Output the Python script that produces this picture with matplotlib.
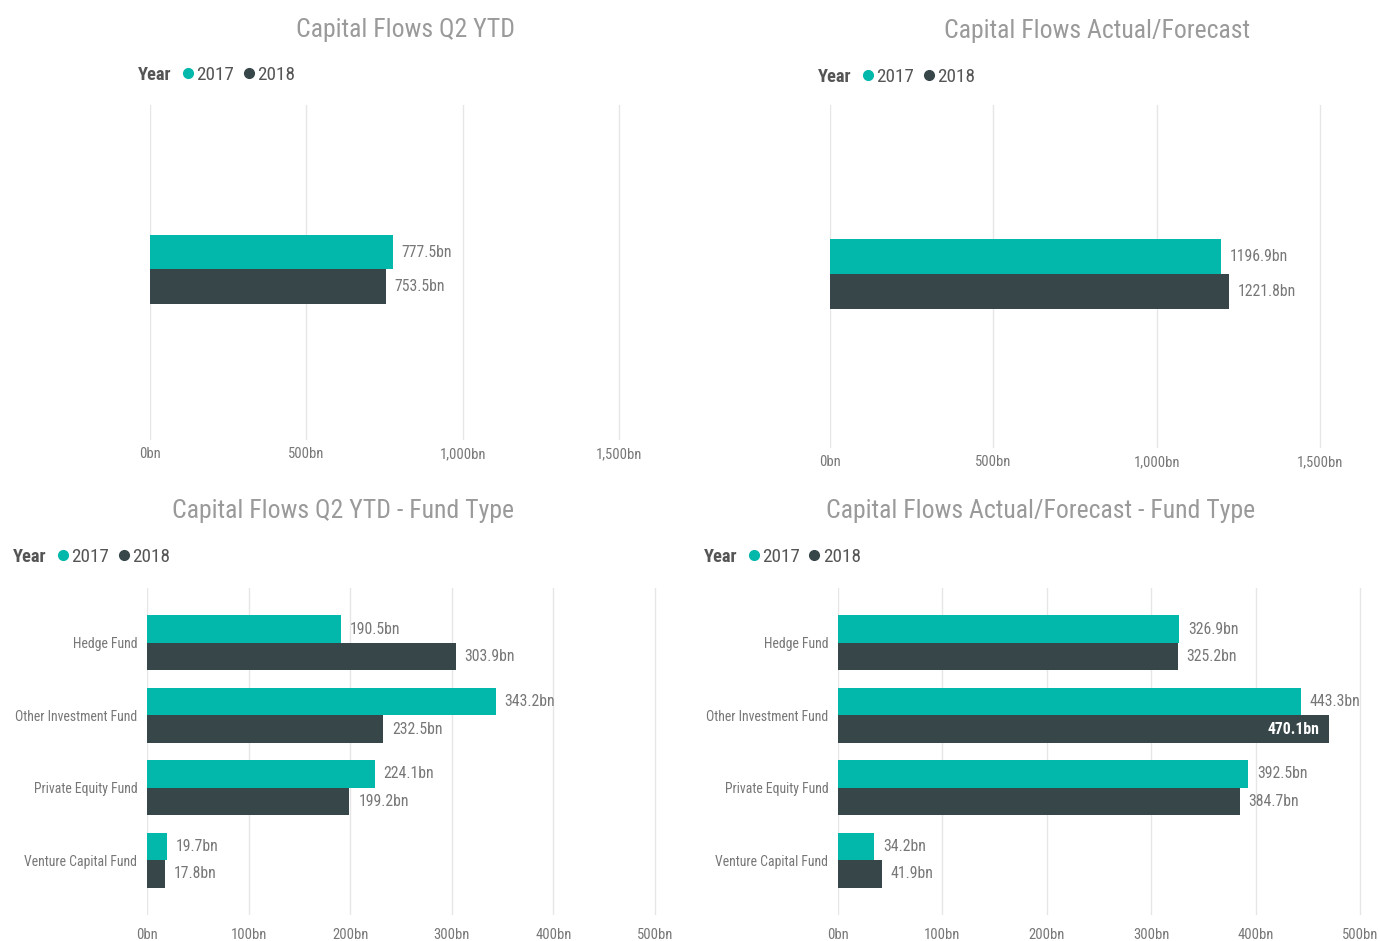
import matplotlib.pyplot as plt
from matplotlib.lines import Line2D

plt.rcParams["font.family"] = ["Roboto Condensed", "Roboto", "DejaVu Sans"]

years = ["2017", "2018"]
q2_ytd = [777.5, 753.5]
actual_forecast = [1196.9, 1221.8]

fund_types = ["Hedge Fund", "Other Investment Fund", "Private Equity Fund", "Venture Capital Fund"]
q2_fund_2017 = [190.5, 343.2, 224.1, 19.7]
q2_fund_2018 = [303.9, 232.5, 199.2, 17.8]
af_fund_2017 = [326.9, 443.3, 392.5, 34.2]
af_fund_2018 = [325.2, 470.1, 384.7, 41.9]

big_ticks = [0, 500, 1000, 1500]
big_labels = ["0bn", "500bn", "1,000bn", "1,500bn"]
small_ticks = [0, 100, 200, 300, 400, 500]
small_labels = ["0bn", "100bn", "200bn", "300bn", "400bn", "500bn"]

TEAL = "#01B8AA"
DARK = "#374649"
GREY = "#777777"
TITLE = "#9a9a9a"
GRID = "#e6e6e6"

W, H = 1380, 941
fig = plt.figure(figsize=(W / 100, H / 100), dpi=100)
fig.patch.set_facecolor("white")


def px_axes(left, top, right, bottom):
    return fig.add_axes([left / W, 1 - bottom / H, (right - left) / W, (bottom - top) / H])


def style(ax, ticks, labels, pad):
    ax.set_xticks(ticks)
    ax.set_xticklabels(labels, color=GREY, fontsize=10.5)
    ax.tick_params(axis="x", length=0, pad=pad)
    ax.tick_params(axis="y", length=0, pad=7, labelcolor=GREY, labelsize=9.9)
    ax.grid(axis="x", color=GRID, linewidth=1)
    ax.set_axisbelow(True)
    for s in ax.spines.values():
        s.set_visible(False)


def header(title, tx, ty, lx, ly):
    fig.text(tx / W, 1 - ty / H, title, ha="center", va="center", fontsize=18.5, color=TITLE)
    fig.text(lx / W, 1 - ly / H, "Year", ha="left", va="center", fontsize=13.3,
             fontweight="bold", color="#555555")
    handles = [Line2D([], [], marker="o", linestyle="", color=c, markersize=7) for c in (TEAL, DARK)]
    fig.legend(handles, years, loc="center left", bbox_to_anchor=((lx + 41) / W, 1 - ly / H),
               ncol=2, frameon=False, fontsize=13.8, handletextpad=0.0, columnspacing=0.3,
               borderaxespad=0, borderpad=0, handlelength=0.9, labelcolor="#555555")


def label(ax, x, y, val, inside=False, fs=11.3):
    txt = f"{val:.1f}bn"
    if inside:
        ax.text(x - 0.017 * ax.get_xlim()[1], y, txt, ha="right", va="center", color="white",
                fontsize=fs, fontweight="bold")
    else:
        ax.text(x + 0.017 * ax.get_xlim()[1], y, txt, ha="left", va="center", color=GREY, fontsize=fs)


# top-left
ax1 = px_axes(150, 105, 150 + 1560 * 0.3127, 440)
ax1.set_xlim(0, 1560)
ax1.set_ylim(0.5, -0.5)
y1 = [-0.061, 0.043]
ax1.barh(y1, q2_ytd, height=0.104, color=[TEAL, DARK])
style(ax1, big_ticks, big_labels, 5)
ax1.set_yticks([])
for y, v in zip(y1, q2_ytd):
    label(ax1, v, y, v)
header("Capital Flows Q2 YTD", 405, 30, 138, 75)

# top-right
ax2 = px_axes(830, 105, 830 + 1560 * 0.3267, 448)
ax2.set_xlim(0, 1560)
ax2.set_ylim(0.5, -0.5)
y2 = [-0.058, 0.044]
ax2.barh(y2, actual_forecast, height=0.102, color=[TEAL, DARK])
style(ax2, big_ticks, big_labels, 5)
ax2.set_yticks([])
for y, v in zip(y2, actual_forecast):
    label(ax2, v, y, v)
header("Capital Flows Actual/Forecast", 1097, 31, 818, 77)

# bottom panels
pos = list(range(len(fund_types)))
bh = 0.38
for left, scale, xmax, v17, v18, title, tx, lx in [
    (147, 1.016, 520, q2_fund_2017, q2_fund_2018, "Capital Flows Q2 YTD - Fund Type", 343, 13),
    (838, 1.044, 510, af_fund_2017, af_fund_2018, "Capital Flows Actual/Forecast - Fund Type", 1041, 704),
]:
    ax = px_axes(left, 588, left + xmax * scale, 915)
    ax.set_xlim(0, xmax)
    ax.set_ylim(3.76, -0.76)
    ax.barh([p - bh / 2 for p in pos], v17, height=bh, color=TEAL)
    ax.barh([p + bh / 2 for p in pos], v18, height=bh, color=DARK)
    style(ax, small_ticks, small_labels, 9.5)
    ax.set_yticks(pos)
    ax.set_yticklabels(fund_types)
    for p, a, b in zip(pos, v17, v18):
        label(ax, a, p - bh / 2, a)
        label(ax, b, p + bh / 2, b, inside=b > 0.9 * xmax)
    header(title, tx, 511, lx, 557)

fig.savefig("out.png", dpi=100, facecolor="white")
